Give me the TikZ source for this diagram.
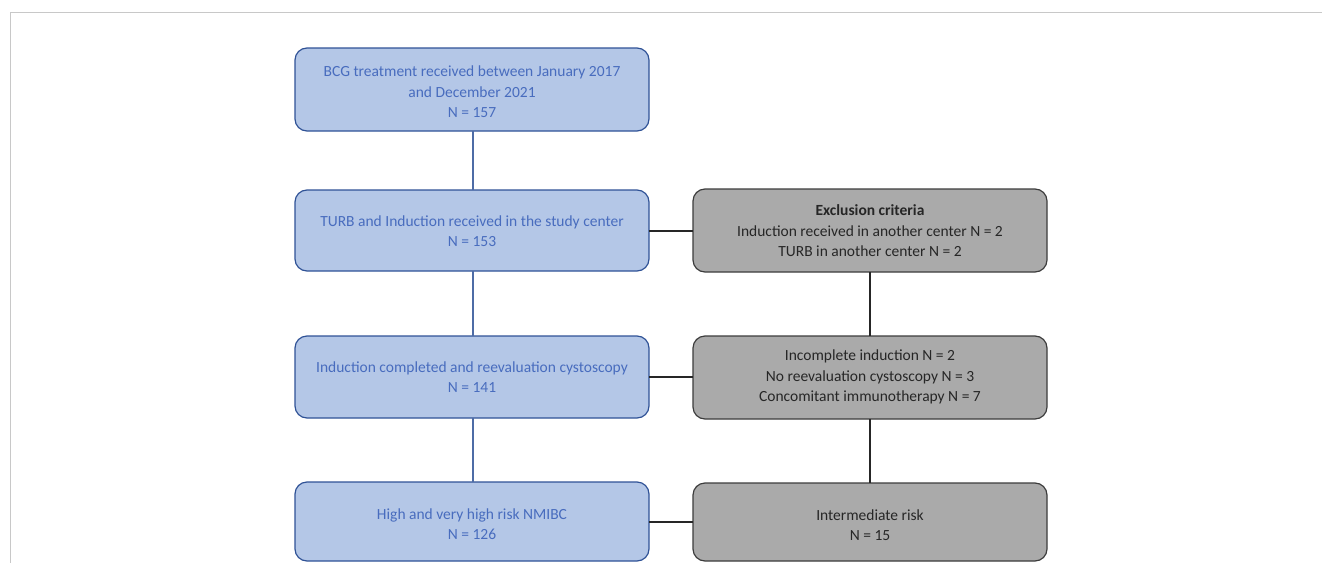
\documentclass[tikz,border=0pt]{standalone}
\usepackage{fontspec}
\setmainfont{Carlito}
\definecolor{bfill}{RGB}{180,199,231}
\definecolor{bdraw}{RGB}{47,82,150}
\definecolor{btext}{RGB}{72,108,190}
\definecolor{gfill}{RGB}{170,170,170}
\definecolor{gdraw}{RGB}{60,60,60}
\definecolor{frame}{RGB}{200,200,200}
\begin{document}
\begin{tikzpicture}[x=1pt,y=-1pt,
  bluebox/.style={draw=bdraw,fill=bfill,line width=1.2pt,rounded corners=12pt},
  graybox/.style={draw=gdraw,fill=gfill,line width=1.2pt,rounded corners=12pt},
  btxt/.style={text=btext,align=center,font=\fontsize{15.5}{20.5}\selectfont},
  gtxt/.style={text=black!85,align=center,font=\fontsize{15.5}{20.5}\selectfont},
  bline/.style={draw=bdraw!85,line width=2pt},
  kline/.style={draw=black!85,line width=2.2pt}]
\useasboundingbox (0,0) rectangle (1322,562);
\clip (0,0) rectangle (1322,562);
\draw[frame,line width=1pt] (10,600) -- (10,12) -- (1330,12);
% blue boxes
\path[bluebox] (295,48) rectangle (649,131);
\path[bluebox] (295,190) rectangle (649,271);
\path[bluebox] (295,336) rectangle (649,418);
\path[bluebox] (295,482) rectangle (649,561);
% gray boxes
\path[graybox] (693,189) rectangle (1047,272);
\path[graybox] (693,336) rectangle (1047,419);
\path[graybox] (693,483) rectangle (1047,561);
% nodes (text)
\node[btxt] (b1) at (472,92) {BCG treatment received between January 2017\\and December 2021\\N = 157};
\node[btxt] (b2) at (472,231) {TURB and Induction received in the study center\\N = 153};
\node[btxt] (b3) at (472,377) {Induction completed and reevaluation cystoscopy\\N = 141};
\node[btxt] (b4) at (472,524) {High and very high risk NMIBC\\N = 126};
\node[gtxt] (g2) at (870,231) {\textbf{Exclusion criteria}\\Induction received in another center N = 2\\TURB in another center N = 2};
\node[gtxt] (g3) at (870,377) {Incomplete induction N = 2\\No reevaluation cystoscopy N = 3\\Concomitant immunotherapy N = 7};
\node[gtxt] (g4) at (870,525) {Intermediate risk\\N = 15};
% coordinates for connectors
\coordinate (b1s) at (473,131); \coordinate (b2n) at (473,190);
\coordinate (b2s) at (473,271); \coordinate (b3n) at (473,336);
\coordinate (b3s) at (473,418); \coordinate (b4n) at (473,482);
\coordinate (b2e) at (649,231); \coordinate (g2w) at (693,231);
\coordinate (b3e) at (649,377); \coordinate (g3w) at (693,377);
\coordinate (b4e) at (649,522); \coordinate (g4w) at (693,522);
\coordinate (g2s) at (870,272); \coordinate (g3n) at (870,336);
\coordinate (g3s) at (870,419); \coordinate (g4n) at (870,483);
\draw[bline] (b1s) -- (b2n);
\draw[bline] (b2s) -- (b3n);
\draw[bline] (b3s) -- (b4n);
\draw[kline] (b2e) -- (g2w);
\draw[kline] (b3e) -- (g3w);
\draw[kline] (b4e) -- (g4w);
\draw[kline] (g2s) -- (g3n);
\draw[kline] (g3s) -- (g4n);
\end{tikzpicture}
\end{document}
